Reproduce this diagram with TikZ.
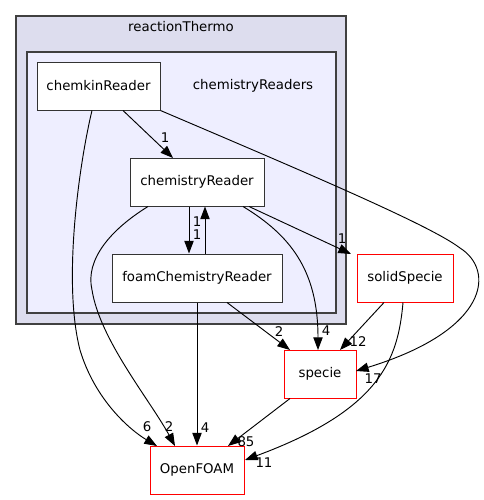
\documentclass[tikz,border=0pt]{standalone}
\usepackage{fontspec}
\setmainfont{DejaVu Sans}
\usetikzlibrary{arrows.meta}
\begin{document}
\begin{tikzpicture}[x=0.75pt,y=-0.75pt,
  every node/.style={font=\fontsize{10}{12}\selectfont},
  cluster/.style={draw=black!75,line width=1pt},
  dirbox/.style={draw=black!80,fill=white,line width=0.75pt,minimum height=36pt,inner sep=0pt},
  extbox/.style={draw=red,fill=white,line width=0.75pt,minimum height=36pt,inner sep=0pt},
  dep/.style={draw=black,line width=0.7pt,-{Triangle[length=9.5pt,width=7pt]}},
  lbl/.style={inner sep=0pt}]
\useasboundingbox (0,0) rectangle (484,500);
% clusters
\filldraw[cluster,fill={rgb,255:red,221;green,221;blue,238}] (16,16) rectangle (346,324);
\node (rt) at (181,27) {reactionThermo};
\filldraw[cluster,fill={rgb,255:red,238;green,238;blue,255}] (27,52) rectangle (336,313);
\node (crs) at (253,86) {chemistryReaders};
% nodes
\node[dirbox,minimum width=92.25pt] (chemkin) at (98.5,86) {chemkinReader};
\node[dirbox,minimum width=100.5pt] (chemR) at (197,182) {chemistryReader};
\node[dirbox,minimum width=127.5pt] (foam) at (197,278) {foamChemistryReader};
\node[extbox,minimum width=72pt] (solid) at (405,278) {solidSpecie};
\node[extbox,minimum width=54pt] (specie) at (320,374) {specie};
\node[extbox,minimum width=70.5pt] (of) at (197,470) {OpenFOAM};
% connector endpoints
\coordinate (e1) at (173,158);
\coordinate (e2) at (157,446);
\coordinate (e3) at (356,371);
\coordinate (e4) at (175,446);
\coordinate (e5) at (318,350);
\coordinate (e6) at (351,254);
\coordinate (e7) at (245,460);
\coordinate (e8) at (228,446);
\coordinate (e9) at (290,350);
\coordinate (e10) at (340,350);
% edges
\draw[dep] (chemkin.south -| 123,0) -- (e1);
\draw[dep] (chemkin.south -| 92,0) .. controls (80,160) and (62,280) .. (80,350) .. controls (95,400) and (130,430) .. (e2);
\draw[dep] (chemkin.south east) .. controls (300,170) and (430,225) .. (460,248) .. controls (495,270) and (490,330) .. (e3);
\draw[dep] (chemR.south -| 189,0) -- (foam.north -| 189,0);
\draw[dep] (foam.north -| 205,0) -- (chemR.south -| 205,0);
\draw[dep] (chemR.south -| 148,0) .. controls (110,230) and (85,260) .. (92,290) .. controls (100,340) and (150,400) .. (e4);
\draw[dep] (chemR.south -| 243,0) .. controls (290,235) and (318,270) .. (e5);
\draw[dep] (chemR.south -| 249,0) -- (e6);
\draw[dep] (foam.south) -- (of.north);
\draw[dep] (foam.south -| 227,0) -- (e9);
\draw[dep] (solid.south -| 384,0) -- (e10);
\draw[dep] (solid.south -| 403,0) .. controls (398,360) and (380,410) .. (e7);
\draw[dep] (specie.south -| 290,0) -- (e8);
% labels
\node[lbl] (l1) at (165,138) {1};
\node[lbl] (l2) at (197,222) {1};
\node[lbl] (l3) at (197,235) {1};
\node[lbl] (l4) at (342,239) {1};
\node[lbl] (l5) at (147,427) {6};
\node[lbl] (l6) at (169,427) {2};
\node[lbl] (l7) at (205,428) {4};
\node[lbl] (l8) at (246,442) {85};
\node[lbl] (l9) at (264,463) {11};
\node[lbl] (l10) at (279,332) {2};
\node[lbl] (l11) at (326,331) {4};
\node[lbl] (l12) at (358,342) {12};
\node[lbl] (l13) at (373,379) {17};
\end{tikzpicture}
\end{document}
